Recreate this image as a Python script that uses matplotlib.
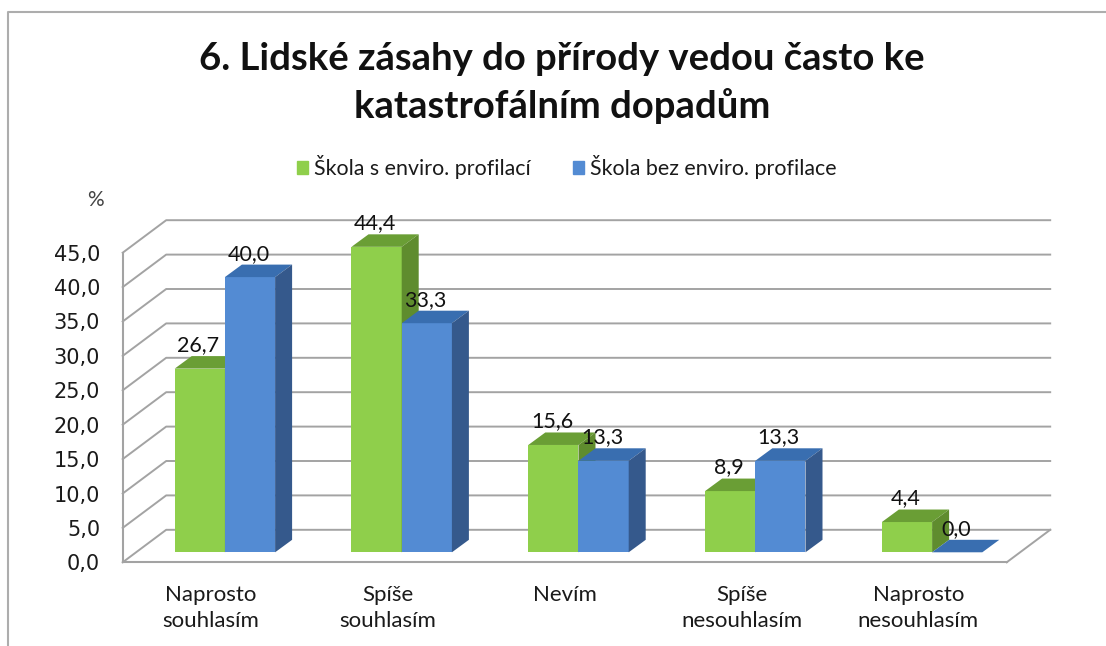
import matplotlib
matplotlib.use("Agg")
import matplotlib.pyplot as plt
from matplotlib.lines import Line2D
from matplotlib.patches import Patch, Polygon

# hodnoty z grafu (%)
categories = ["Naprosto\nsouhlasím", "Spíše\nsouhlasím", "Nevím", "Spíše\nnesouhlasím", "Naprosto\nnesouhlasím"]
enviro = [26.7, 44.4, 15.6, 8.9, 4.4]
bez_enviro = [40.0, 33.3, 13.3, 13.3, 0.0]
y_ticks = [0, 5, 10, 15, 20, 25, 30, 35, 40, 45]

TITLE = "6. Lidské zásahy do přírody vedou často ke\nkatastrofálním dopadům"
SERIES_NAMES = ["Škola s enviro. profilací", "Škola bez enviro. profilace"]

W, H = 1106, 646
# osa v pixelech obrazku
X0, X1 = 122.7, 1006.7
Y0, Y45 = 562.3, 252.7
PX_X = (X1 - X0) / 5
PX_Y = (Y0 - Y45) / 45

# hloubka steny a sloupcu, prevedena na jednotky os
WALL_DX, WALL_DY = 43.5 / PX_X, 32.5 / PX_Y
BAR_DX, BAR_DY = 17 / PX_X, 12.5 / PX_Y
BAR_BASE = 10 / PX_Y
BAR_W = 50.2 / PX_X
BAR_START = 52 / PX_X

GRID = "#a3a3a3"
GREEN = ("#8fcf4b", "#6a9e35", "#5f8c2e")
BLUE = ("#538bd3", "#396eb0", "#35598c")
FONT = "Lato"


def draw_bar(ax, left, value, colors, z):
    front, top, side = colors
    base = BAR_BASE
    right = left + BAR_W
    head = base + value
    ax.bar(left, value, BAR_W, bottom=base, align="edge", color=front, zorder=z, clip_on=False)
    ax.add_patch(Polygon([(left, head), (right, head), (right + BAR_DX, head + BAR_DY), (left + BAR_DX, head + BAR_DY)],
                         facecolor=top, edgecolor="none", zorder=z, clip_on=False))
    ax.add_patch(Polygon([(right, base), (right, head), (right + BAR_DX, head + BAR_DY), (right + BAR_DX, base + BAR_DY)],
                         facecolor=side, edgecolor="none", zorder=z, clip_on=False))


def main():
    fig = plt.figure(figsize=(W / 100, H / 100), dpi=100, facecolor="white")
    ax = fig.add_axes([X0 / W, 1 - Y0 / H, (X1 - X0) / W, (Y0 - Y45) / H])
    ax.set_xlim(0, 5)
    ax.set_ylim(0, 45)
    ax.patch.set_visible(False)

    # mrizka na zadni stene a bocni stene
    n = len(categories)
    for t in y_ticks:
        ax.plot([0, WALL_DX, n + WALL_DX], [t, t + WALL_DY, t + WALL_DY], color=GRID, lw=1.4, zorder=1, clip_on=False)
    ax.plot([n, n + WALL_DX], [0, WALL_DY], color=GRID, lw=1.4, zorder=1, clip_on=False)

    # sloupce
    for i in range(n):
        draw_bar(ax, i + BAR_START, enviro[i], GREEN, 3 + i * 0.1)
        draw_bar(ax, i + BAR_START + BAR_W, bez_enviro[i], BLUE, 3.05 + i * 0.1)

    # popisky hodnot
    for i in range(n):
        for j, vals in enumerate([enviro, bez_enviro]):
            ax.text(i + BAR_START + BAR_W * (j + 0.5) - 1.5 / PX_X, vals[i] + BAR_BASE + 23.5 / PX_Y,
                    f"{vals[i]:.1f}".replace(".", ","), ha="center", va="center",
                    fontsize=15.5, family=FONT, color="#111111", zorder=6, clip_on=False)

    # osy
    for name in ["top", "right"]:
        ax.spines[name].set_visible(False)
    for name in ["left", "bottom"]:
        ax.spines[name].set_color(GRID)
        ax.spines[name].set_linewidth(1.5)
    ax.set_xticks([i + 0.5 for i in range(n)])
    ax.set_xticklabels(categories, fontsize=16, family=FONT, color="#1a1a1a", linespacing=1.38)
    ax.set_yticks(y_ticks)
    ax.set_yticklabels([f"{t:.1f}".replace(".", ",") for t in y_ticks], fontsize=15, family="DejaVu Sans", color="#1a1a1a")
    ax.tick_params(axis="x", length=0, pad=16)
    ax.tick_params(axis="y", length=0, pad=16.3)

    fig.text(95 / W, 1 - 200 / H, "%", ha="center", va="center", fontsize=15, family=FONT, color="#444444")
    fig.text(562 / W, 1 - 82.5 / H, TITLE, ha="center", va="center", fontsize=27.5, fontweight="bold",
             family=FONT, color="#111111", linespacing=1.4)

    handles = [Patch(color=GREEN[0], label=SERIES_NAMES[0]), Patch(color=BLUE[0], label=SERIES_NAMES[1])]
    fig.legend(handles=handles, ncol=2, loc="center", bbox_to_anchor=(567 / W, 1 - 167 / H), frameon=False,
               prop={"family": FONT, "size": 15.4}, handlelength=0.5, handleheight=0.55, handletextpad=0.3,
               columnspacing=2.0, labelcolor="#1a1a1a", borderpad=0, borderaxespad=0)

    # ramecek kolem grafu
    fig.add_artist(Line2D([8 / W, 8 / W, 1], [0, 1 - 12 / H, 1 - 12 / H], color="#adadad", lw=1.5))

    fig.savefig("out.png", dpi=100)


if __name__ == "__main__":
    main()
